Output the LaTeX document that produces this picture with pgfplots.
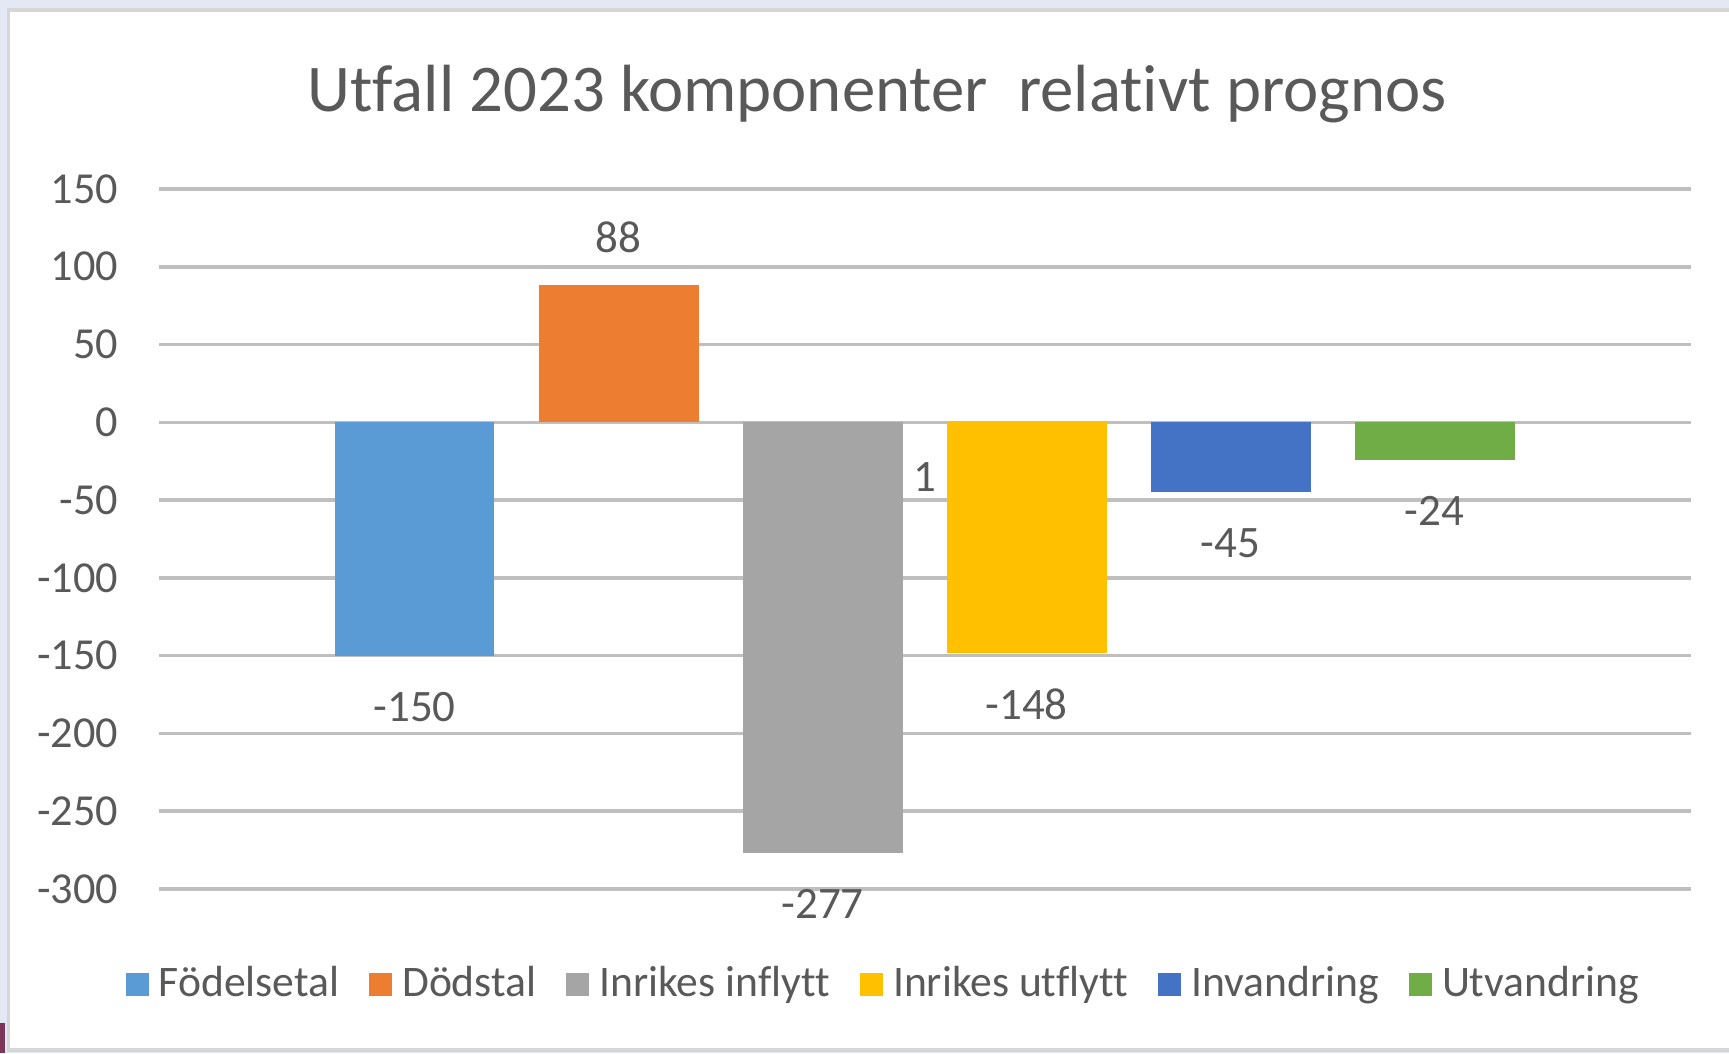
\documentclass[border=0pt]{standalone}
\usepackage{fontspec}
\setmainfont{Carlito}[Ligatures=NoCommon]
\usepackage{pgfplots}
\pgfplotsset{compat=1.18}
\definecolor{bgc}{HTML}{E4E8F4}
\definecolor{frame}{HTML}{D6D6D6}
\definecolor{txt}{HTML}{595959}
\definecolor{grid}{HTML}{D9D9D9}
\definecolor{cA}{HTML}{5B9BD5}
\definecolor{cB}{HTML}{ED7D31}
\definecolor{cC}{HTML}{A5A5A5}
\definecolor{cD}{HTML}{FFC000}
\definecolor{cE}{HTML}{4472C4}
\definecolor{cF}{HTML}{70AD47}
\definecolor{plum}{HTML}{7A3558}
\begin{document}
\begin{tikzpicture}
\useasboundingbox (0,0) rectangle (17.29,10.53);
\fill[bgc] (0,0) rectangle (17.29,10.53);
\fill[white] (0.085,0.03) rectangle (17.29,10.43);
\draw[frame, line width=0.035cm] (17.29,0.03) -- (0.085,0.03) -- (0.085,10.43) -- (17.29,10.43);
\fill[plum] (0,0) rectangle (0.055,0.30);
\node[anchor=base, inner sep=0pt, text=txt, font=\fontsize{19}{23}\selectfont] at (8.77,9.41) {Utfall 2023 komponenter\ \ relativt prognos};
\begin{axis}[
  at={(1.59cm,1.64cm)}, anchor=south west,
  scale only axis, width=15.32cm, height=7.00cm,
  xmin=-1.2525, xmax=6.257, ymin=-300, ymax=150,
  xtick=\empty,
  ytick={-300,-250,-200,-150,-100,-50,0,50,100,150},
  yticklabels={-300,-250,-200,-150,-100,-50,0,50,100,150},
  /pgf/number format/assume math mode=true,
  yticklabel style={anchor=east, inner sep=0pt, xshift=-0.4cm, text=txt, font=\fontsize{12.6}{15}\selectfont},
  ymajorgrids, grid style={grid, line width=0.035cm},
  axis line style={draw=none}, major tick length=0pt,
  ybar, bar width=0.784, bar shift=0pt,
  nodes near coords, point meta=explicit symbolic,
  every node near coord/.append style={inner sep=0pt, text=txt, font=\fontsize{12.8}{15}\selectfont},
  legend columns=6,
  legend style={draw=none, fill=none, inner xsep=0pt, inner ysep=0pt,
    at={(rel axis cs:-0.0222,-0.136)}, anchor=west,
    font=\fontsize{12.4}{15}\selectfont, text=txt,
    /tikz/every odd column/.append style={column sep=0.03cm},
    /tikz/every even column/.append style={column sep=0.23cm}},
  legend image code/.code={\fill[#1, draw=none] (0cm,-0.115cm) rectangle (0.23cm,0.115cm);},
]
\addplot[fill=cA, draw=none, every node near coord/.append style={anchor=north, yshift=-0.355cm}] coordinates {(0,-150) [-150]};
\addlegendentry{Födelsetal}
\addplot[fill=cB, draw=none, every node near coord/.append style={anchor=south, yshift=0.32cm}] coordinates {(1,88) [88]};
\addlegendentry{Dödstal}
\addplot[fill=cC, draw=none, every node near coord/.append style={anchor=north, yshift=-0.355cm}] coordinates {(2,-277) [-277]};
\addlegendentry{Inrikes inflytt}
\addplot[fill=cD, draw=none, every node near coord/.append style={anchor=north, yshift=-0.355cm}] coordinates {(3,-148) [-148]};
\addlegendentry{Inrikes utflytt}
\addplot[fill=cE, draw=none, every node near coord/.append style={anchor=north, yshift=-0.355cm}] coordinates {(4,-45) [-45]};
\addlegendentry{Invandring}
\addplot[fill=cF, draw=none, every node near coord/.append style={anchor=north, yshift=-0.355cm}] coordinates {(5,-24) [-24]};
\addlegendentry{Utvandring}
\node[text=txt, inner sep=0pt, font=\fontsize{12.8}{15}\selectfont] at (axis cs:2.5,-35) {1};
\end{axis}
\end{tikzpicture}
\end{document}
